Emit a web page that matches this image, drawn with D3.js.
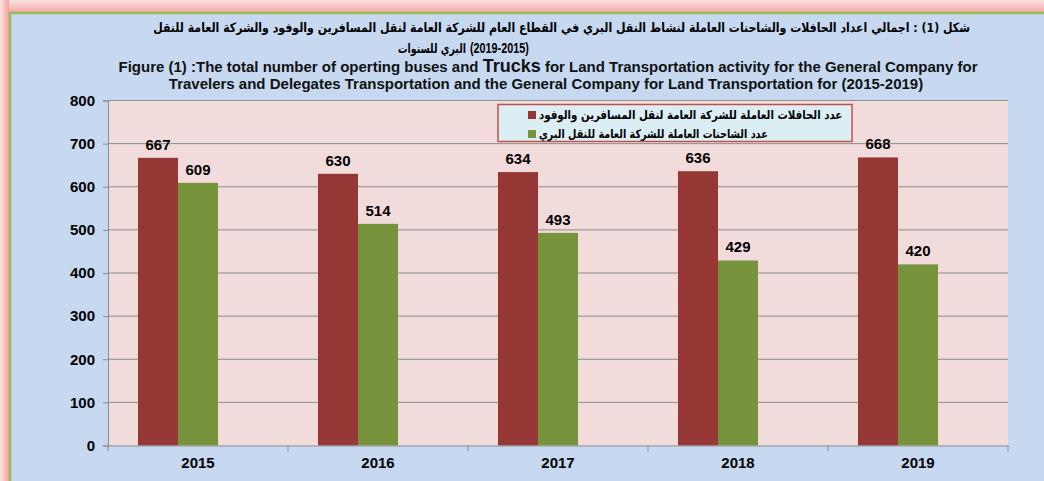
<!DOCTYPE html>
<html>
<head>
<meta charset="utf-8">
<script src="https://cdn.jsdelivr.net/npm/d3@7"></script>
<style>
  body { margin: 0; padding: 0; }
  svg { display: block; font-family: "Liberation Sans", Arial, sans-serif; }
</style>
</head>
<body>
<svg width="1044" height="481"></svg>
<script>
var svg = d3.select("svg"),
    width = 1044,
    height = 481;

// the data
var years = ["2015", "2016", "2017", "2018", "2019"];
var buses = [667, 630, 634, 636, 668];
var trucks = [609, 514, 493, 429, 420];
var seriesNames = [
  "عدد الحافلات العاملة للشركة العامة لنقل المسافرين والوفود",
  "عدد الشاحنات العاملة للشركة العامة للنقل البري"
];
var yTicks = [0, 100, 200, 300, 400, 500, 600, 700, 800];
var colors = ["#953735", "#77933c"];

// background + frame
var defs = svg.append("defs");
var gTop = defs.append("linearGradient").attr("id", "gTop").attr("x1", 0).attr("y1", 0).attr("x2", 0).attr("y2", 1);
gTop.append("stop").attr("offset", "0%").attr("stop-color", "#fbe3e2");
gTop.append("stop").attr("offset", "100%").attr("stop-color", "#f4a3a0");
var gLeft = defs.append("linearGradient").attr("id", "gLeft").attr("x1", 0).attr("y1", 0).attr("x2", 1).attr("y2", 0);
gLeft.append("stop").attr("offset", "0%").attr("stop-color", "#fbe3e2");
gLeft.append("stop").attr("offset", "100%").attr("stop-color", "#f4a3a0");

svg.append("rect").attr("width", width).attr("height", height).attr("fill", "#ffffff");
svg.append("rect").attr("x", 0).attr("y", 0).attr("width", width).attr("height", 13).attr("fill", "url(#gTop)");
svg.append("rect").attr("x", 0).attr("y", 0).attr("width", 9).attr("height", height).attr("fill", "url(#gLeft)");
svg.append("rect").attr("x", 9).attr("y", 12).attr("width", width - 9).attr("height", height - 12)
    .attr("fill", "#c6d9f0");
svg.append("line").attr("x1", 9).attr("x2", width).attr("y1", 13).attr("y2", 13)
    .attr("stroke", "#9bbb59").attr("stroke-width", 2.5);
svg.append("line").attr("x1", 10).attr("x2", 10).attr("y1", 12).attr("y2", height)
    .attr("stroke", "#9bbb59").attr("stroke-width", 2.5);

// fit a text between two x positions by scaling it horizontally
function fitText(sel, left, right) {
  var w = sel.node().getBBox().width;
  var bx = sel.node().getBBox().x;
  var k = (right - left) / w;
  var yv = +sel.attr("y");
  sel.attr("transform", "translate(" + left + "," + yv + ") scale(" + k + ",1) translate(" + (-bx) + "," + (-yv) + ")");
}

// titles
var arFont = "'DejaVu Sans', 'Noto Sans', sans-serif";
var ar1 = svg.append("text").attr("x", 0).attr("y", 32)
    .attr("font-family", arFont).attr("font-weight", "bold").attr("font-size", 13)
    .attr("direction", "rtl")
    .text("شكل (1) : اجمالي اعداد الحافلات والشاحنات العاملة لنشاط النقل البري في القطاع العام للشركة العامة لنقل المسافرين والوفود والشركة العامة للنقل");
fitText(ar1, 152, 970);
// second arabic line: words then the year range to their right
var ar2 = svg.append("text").attr("x", 0).attr("y", 53)
    .attr("font-family", arFont).attr("font-weight", "bold").attr("font-size", 13)
    .text("البري للسنوات");
fitText(ar2, 398, 466);
var ar3 = svg.append("text").attr("x", 0).attr("y", 53)
    .attr("font-weight", "bold").attr("font-size", 14.5)
    .text("(2019-2015)");
fitText(ar3, 470, 529);

var t1 = svg.append("text").attr("x", 548).attr("y", 72).attr("text-anchor", "middle")
    .attr("font-weight", "bold").attr("font-size", 15).attr("fill", "#111");
t1.append("tspan").text("Figure (1) :The total number of operting buses and ");
t1.append("tspan").attr("font-size", 18).text("Trucks");
t1.append("tspan").text(" for Land Transportation activity for the General Company for");
svg.append("text").attr("x", 546).attr("y", 89).attr("text-anchor", "middle")
    .attr("font-weight", "bold").attr("font-size", 15).attr("fill", "#111")
    .text("Travelers and Delegates Transportation and the General Company for Land Transportation for (2015-2019)");

// scales
var plotL = 108, plotR = 1008, plotT = 100.5, plotB = 445.5;
var x = d3.scaleBand().domain(years).range([plotL, plotR]);
var y = d3.scaleLinear().domain([0, 800]).range([plotB, plotT]);
var barW = 40, barOff = 30;

svg.append("rect").attr("x", plotL).attr("y", plotT).attr("width", plotR - plotL).attr("height", plotB - plotT)
    .attr("fill", "#f2dcdb");

// gridlines
svg.append("g").selectAll("line").data(yTicks.slice(1)).enter().append("line")
    .attr("x1", plotL).attr("x2", plotR)
    .attr("y1", function(d) { return y(d); }).attr("y2", function(d) { return y(d); })
    .attr("stroke", "#8c8c8c").attr("stroke-width", 1);

// bars
var series = [buses, trucks];
series.forEach(function(vals, si) {
  svg.append("g").selectAll("rect").data(vals).enter().append("rect")
      .attr("x", function(d, i) { return x(years[i]) + barOff + si * barW; })
      .attr("y", function(d) { return y(d); })
      .attr("width", barW)
      .attr("height", function(d) { return y(0) - y(d); })
      .attr("fill", colors[si]);
  svg.append("g").selectAll("text").data(vals).enter().append("text")
      .attr("x", function(d, i) { return x(years[i]) + barOff + barW / 2 + si * barW; })
      .attr("y", function(d) { return y(d) - 8; })
      .attr("text-anchor", "middle")
      .attr("font-weight", "bold").attr("font-size", 15)
      .text(function(d) { return d; });
});

// y axis
var yAxis = svg.append("g").attr("transform", "translate(" + plotL + ",0)")
    .call(d3.axisLeft(y).tickValues(yTicks).tickSize(5).tickPadding(8));
yAxis.select(".domain").attr("stroke", "#8c8c8c");
yAxis.selectAll(".tick line").attr("stroke", "#8c8c8c");
yAxis.selectAll("text").attr("font-weight", "bold").attr("font-size", 15)
    .attr("font-family", "'Liberation Sans', Arial, sans-serif").attr("fill", "#000");

// x axis
var xAxis = svg.append("g").attr("transform", "translate(0," + plotB + ")")
    .call(d3.axisBottom(x).tickSize(0).tickPadding(12));
xAxis.select(".domain").attr("stroke", "#8c8c8c");
xAxis.selectAll("text").attr("font-weight", "bold").attr("font-size", 15)
    .attr("font-family", "'Liberation Sans', Arial, sans-serif").attr("fill", "#000");
xAxis.selectAll(".sep").data(d3.range(years.length + 1)).enter().append("line")
    .attr("x1", function(i) { return plotL + i * x.step(); })
    .attr("x2", function(i) { return plotL + i * x.step(); })
    .attr("y1", 0).attr("y2", 6)
    .attr("stroke", "#8c8c8c");

// legend
var legendR = [843, 768];
var lg = svg.append("g");
lg.append("rect").attr("x", 498).attr("y", 104.5).attr("width", 354).attr("height", 37)
    .attr("fill", "#dbeef4").attr("stroke", "#c0504d").attr("stroke-width", 1.5);
seriesNames.forEach(function(name, i) {
  var ly = 111 + i * 19;
  lg.append("rect").attr("x", 528).attr("y", ly).attr("width", 8).attr("height", 8)
      .attr("fill", colors[i]);
  var lt = lg.append("text").attr("x", 0).attr("y", ly + 8.5)
      .attr("font-family", arFont)
      .attr("font-weight", "bold").attr("font-size", 12)
      .text(name);
  fitText(lt, 539, legendR[i]);
});
</script>
</body>
</html>
